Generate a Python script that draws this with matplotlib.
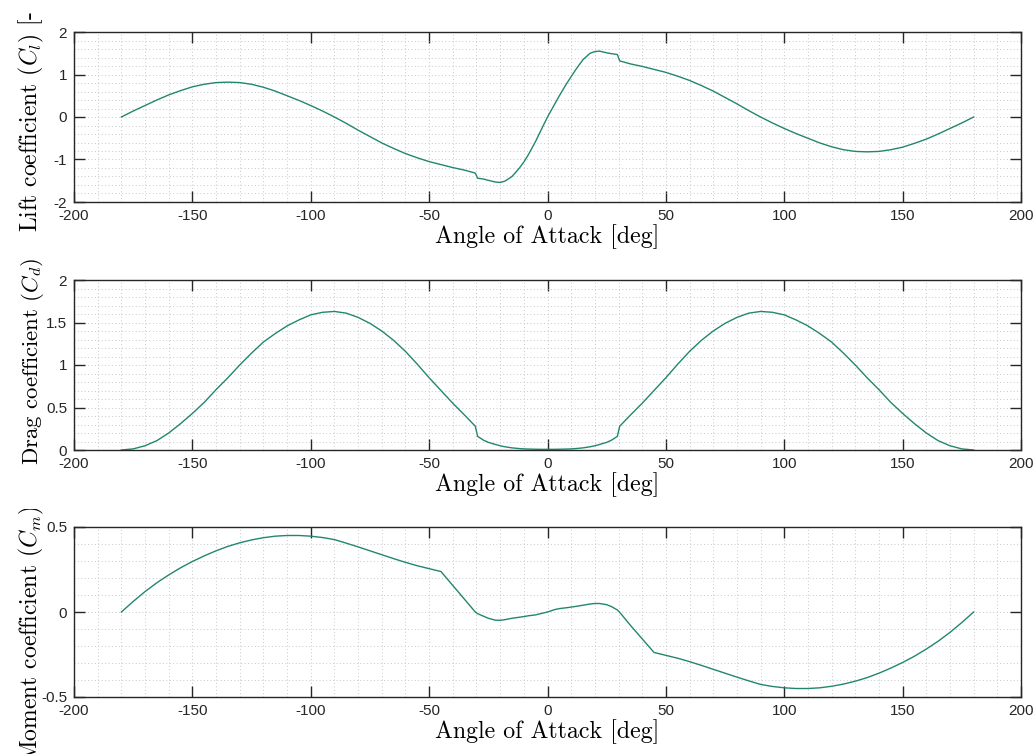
import numpy as np
import matplotlib
matplotlib.use("Agg")
import matplotlib.pyplot as plt
from matplotlib.ticker import MultipleLocator
from matplotlib.transforms import Bbox

plt.rcParams["axes.unicode_minus"] = False
plt.rcParams["mathtext.fontset"] = "cm"

# Angle of attack samples [deg]
aoa = [-180, -175, -170, -165, -160, -155, -150, -145, -140, -135, -130, -125,
       -120, -115, -110, -105, -100, -95, -90, -85, -80, -75, -70, -65, -60,
       -55, -50, -45, -40, -35, -30.5, -29.5, -27, -25, -22, -20, -18, -15,
       -12, -10, -8, -5, -3, 0, 3, 5, 8, 10, 12, 15, 18, 20, 22, 25, 27, 29.5,
       30.5, 35, 40, 45, 50, 55, 60, 65, 70, 75, 80, 85, 90, 95, 100, 105,
       110, 115, 120, 125, 130, 135, 140, 145, 150, 155, 160, 165, 170, 175,
       180]

# Lift coefficient
cl = [0.00, 0.14, 0.27, 0.40, 0.52, 0.62, 0.71, 0.77, 0.81, 0.82, 0.81, 0.77,
      0.70, 0.61, 0.50, 0.39, 0.27, 0.14, 0.00, -0.15, -0.31, -0.46, -0.61,
      -0.74, -0.86, -0.96, -1.05, -1.12, -1.19, -1.25, -1.32, -1.44, -1.46,
      -1.49, -1.53, -1.54, -1.51, -1.40, -1.21, -1.06, -0.88, -0.57, -0.34,
      0.00, 0.30, 0.50, 0.78, 0.95, 1.12, 1.35, 1.50, 1.54, 1.55, 1.51, 1.49,
      1.47, 1.32, 1.25, 1.19, 1.12, 1.05, 0.96, 0.86, 0.74, 0.61, 0.46, 0.31,
      0.15, 0.00, -0.14, -0.27, -0.39, -0.50, -0.61, -0.70, -0.77, -0.81,
      -0.82, -0.81, -0.77, -0.71, -0.62, -0.52, -0.40, -0.27, -0.14, 0.00]

# Drag coefficient
cd = [0.000, 0.013, 0.05, 0.11, 0.20, 0.31, 0.43, 0.56, 0.71, 0.85, 1.00,
      1.14, 1.27, 1.37, 1.46, 1.53, 1.59, 1.62, 1.63, 1.61, 1.56, 1.49, 1.40,
      1.29, 1.16, 1.01, 0.85, 0.70, 0.55, 0.41, 0.28, 0.16, 0.115, 0.09,
      0.065, 0.05, 0.038, 0.025, 0.017, 0.013, 0.011, 0.009, 0.008, 0.008,
      0.008, 0.009, 0.011, 0.013, 0.017, 0.025, 0.038, 0.05, 0.065, 0.09,
      0.115, 0.16, 0.28, 0.41, 0.55, 0.70, 0.85, 1.01, 1.16, 1.29, 1.40, 1.49,
      1.56, 1.61, 1.63, 1.62, 1.59, 1.53, 1.46, 1.37, 1.27, 1.14, 1.00, 0.85,
      0.71, 0.56, 0.43, 0.31, 0.20, 0.11, 0.05, 0.013, 0.000]

# Moment coefficient
cm = [0.000, 0.062, 0.120, 0.172, 0.218, 0.260, 0.297, 0.330, 0.360, 0.386,
      0.407, 0.424, 0.437, 0.446, 0.450, 0.450, 0.446, 0.438, 0.426, 0.405,
      0.383, 0.360, 0.337, 0.314, 0.292, 0.272, 0.255, 0.238, 0.156, 0.074,
      0.000, -0.010, -0.025, -0.037, -0.048, -0.049, -0.045, -0.037, -0.031,
      -0.027, -0.022, -0.017, -0.010, 0.000, 0.014, 0.020, 0.025, 0.029,
      0.033, 0.040, 0.047, 0.050, 0.050, 0.043, 0.032, 0.012, -0.002, -0.078,
      -0.158, -0.238, -0.255, -0.272, -0.292, -0.314, -0.337, -0.360, -0.383,
      -0.405, -0.426, -0.438, -0.446, -0.450, -0.450, -0.446, -0.437, -0.424,
      -0.407, -0.386, -0.360, -0.330, -0.297, -0.260, -0.218, -0.172, -0.120,
      -0.062, 0.000]

line_color = "#22866e"
axis_color = "#262626"
grid_color = "#c8c8c8"
serif = "cmr10"

fig = plt.figure(figsize=(10.35, 7.54), dpi=100)
W, H = 1035, 754

# top/bottom: axes edges in pixels from the top; lab_start: where each
# y-label begins (pixels from the top); clip: upper limit of the label
panels = [
    dict(y=cl, top=32, bottom=202, ylim=(-2, 2), major=1, minor=0.2,
         label="Lift coefficient ($C_l$) [-]", lab_size=17.0,
         lab_start=232, clip=13),
    dict(y=cd, top=280, bottom=450, ylim=(0, 2), major=0.5, minor=0.1,
         label="Drag coefficient ($C_d$)", lab_size=16.4,
         lab_start=465, clip=None),
    dict(y=cm, top=527, bottom=697, ylim=(-0.5, 0.5), major=0.5, minor=0.1,
         label="Moment coefficient ($C_m$) [-]", lab_size=17.0,
         lab_start=762, clip=509),
]

left, right = 74, 1021
for p in panels:
    h = p["bottom"] - p["top"]
    ax = fig.add_axes([left / W, 1 - p["bottom"] / H,
                       (right - left) / W, h / H])
    ax.plot(aoa, p["y"], color=line_color, lw=1.0)
    ax.set_xlim(-200, 200)
    ax.set_ylim(*p["ylim"])
    ax.xaxis.set_major_locator(MultipleLocator(50))
    ax.xaxis.set_minor_locator(MultipleLocator(10))
    ax.yaxis.set_major_locator(MultipleLocator(p["major"]))
    ax.yaxis.set_minor_locator(MultipleLocator(p["minor"]))
    ax.yaxis.set_major_formatter(plt.FuncFormatter(lambda v, _: f"{v:g}"))
    ax.grid(True, which="both", linestyle=(0, (1, 2.5)), color=grid_color,
            linewidth=0.7)
    ax.set_axisbelow(True)
    ax.tick_params(which="major", direction="in", length=8, width=1.0,
                   colors=axis_color, top=True, right=True, labelsize=11)
    ax.tick_params(axis="x", which="major", pad=5)
    ax.tick_params(axis="y", which="major", pad=5)
    ax.tick_params(which="minor", length=0, top=True, right=True)
    for lab in ax.get_xticklabels() + ax.get_yticklabels():
        lab.set_fontfamily("Liberation Sans")
    for s in ax.spines.values():
        s.set_color(axis_color)
        s.set_linewidth(1.0)
    ax.set_xlabel("Angle of Attack [deg]", fontfamily=serif, fontsize=17.2,
                  labelpad=1)
    ylab = ax.set_ylabel(p["label"], fontfamily=serif, fontsize=p["lab_size"])
    ylab.set_horizontalalignment("left")
    ax.yaxis.set_label_coords((46 - left) / (right - left),
                              (p["bottom"] - p["lab_start"]) / h)
    if p["clip"] is not None:
        ylab.set_clip_box(Bbox([[0, 0], [W, H - p["clip"]]]))
        ylab.set_clip_on(True)

fig.savefig("out.png", dpi=100)
